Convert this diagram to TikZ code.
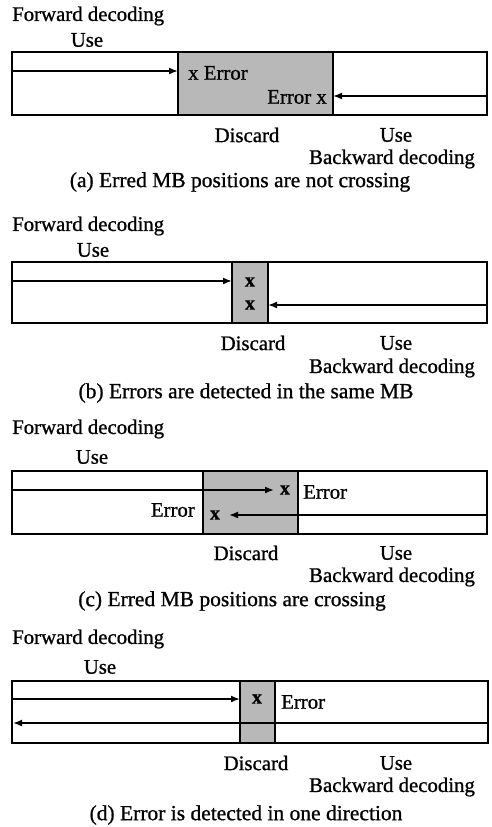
\documentclass[tikz,border=0pt]{standalone}
\usepackage{fontspec}
\setmainfont{Liberation Serif}[FakeBold=0.9]
\usetikzlibrary{arrows.meta}
\begin{document}
\begin{tikzpicture}[x=1pt,y=-1pt,
  frame/.style={line width=2.8pt},
  discard/.style={fill=black!28,draw=black,line width=2.2pt},
  flow/.style={line width=1.7pt,-{Latex[length=9pt,width=7pt]}},
  lbl/.style={font=\fontsize{20.8}{23}\selectfont,inner sep=0pt},
  caption/.style={font=\fontsize{21.5}{24}\selectfont,inner sep=0pt},
  errx/.style={font=\fontsize{20}{22}\selectfont\bfseries,inner sep=0pt}]
\useasboundingbox (0,0) rectangle (492,827);

% ---------- (a) erred positions not crossing ----------
\draw[discard] (178,52) rectangle (333,115);
\draw[frame] (12,52) rectangle (487,115);
\coordinate (a-fs) at (12,71);  \coordinate (a-fe) at (178,71);
\coordinate (a-bs) at (487,96); \coordinate (a-be) at (333,96);
\draw[flow] (a-fs) -- (a-fe);
\draw[flow] (a-bs) -- (a-be);
\node[lbl,anchor=west] (a-e1) at (188,73) {x Error};
\node[lbl,anchor=east] (a-e2) at (327,97) {Error x};
\node[lbl,anchor=west] (a-fwd) at (12,16) {Forward decoding};
\node[lbl] (a-use1) at (87,40) {Use};
\node[lbl] (a-disc) at (247,135) {Discard};
\node[lbl] (a-use2) at (396,135) {Use};
\node[lbl] (a-bwd) at (392,159) {Backward decoding};
\node[caption] (a-cap) at (240,182) {(a) Erred MB positions are not crossing};

% ---------- (b) errors in the same MB ----------
\draw[discard] (232,262) rectangle (268,323);
\draw[frame] (12,262) rectangle (487,323);
\coordinate (b-fs) at (12,281);  \coordinate (b-fe) at (232,281);
\coordinate (b-bs) at (487,305); \coordinate (b-be) at (268,305);
\draw[flow] (b-fs) -- (b-fe);
\draw[flow] (b-bs) -- (b-be);
\node[errx] (b-x1) at (250,282) {x};
\node[errx] (b-x2) at (250,305) {x};
\node[lbl,anchor=west] (b-fwd) at (12,226) {Forward decoding};
\node[lbl] (b-use1) at (93,250) {Use};
\node[lbl] (b-disc) at (253,343) {Discard};
\node[lbl] (b-use2) at (396,343) {Use};
\node[lbl] (b-bwd) at (392,368) {Backward decoding};
\node[caption] (b-cap) at (246,393) {(b) Errors are detected in the same MB};

% ---------- (c) erred positions crossing ----------
\draw[discard] (203,471) rectangle (298,534);
\draw[frame] (12,471) rectangle (487,534);
\coordinate (c-fs) at (12,490);  \coordinate (c-fe) at (274,490);
\coordinate (c-bs) at (487,515); \coordinate (c-be) at (229,515);
\draw[flow] (c-fs) -- (c-fe);
\draw[flow] (c-bs) -- (c-be);
\node[errx] (c-x1) at (285,490) {x};
\node[errx] (c-x2) at (215,515) {x};
\node[lbl,anchor=west] (c-e1) at (303,492) {Error};
\node[lbl,anchor=east] (c-e2) at (195,510) {Error};
\node[lbl,anchor=west] (c-fwd) at (12,429) {Forward decoding};
\node[lbl] (c-use1) at (92,457) {Use};
\node[lbl] (c-disc) at (246,553) {Discard};
\node[lbl] (c-use2) at (396,553) {Use};
\node[lbl] (c-bwd) at (392,577) {Backward decoding};
\node[caption] (c-cap) at (232,601) {(c) Erred MB positions are crossing};

% ---------- (d) error in one direction ----------
\draw[discard] (240,681) rectangle (275,743);
\draw[frame] (12,681) rectangle (488,743);
\coordinate (d-fs) at (12,699);  \coordinate (d-fe) at (240,699);
\coordinate (d-bs) at (488,723); \coordinate (d-be) at (13,723);
\draw[flow] (d-fs) -- (d-fe);
\draw[flow] (d-bs) -- (d-be);
\node[errx] (d-x1) at (257,699) {x};
\node[lbl,anchor=west] (d-e1) at (281,702) {Error};
\node[lbl,anchor=west] (d-fwd) at (12,639) {Forward decoding};
\node[lbl] (d-use1) at (100,667) {Use};
\node[lbl] (d-disc) at (256,763) {Discard};
\node[lbl] (d-use2) at (396,763) {Use};
\node[lbl] (d-bwd) at (392,787) {Backward decoding};
\node[caption] (d-cap) at (246,815) {(d) Error is detected in one direction};
\end{tikzpicture}
\end{document}
